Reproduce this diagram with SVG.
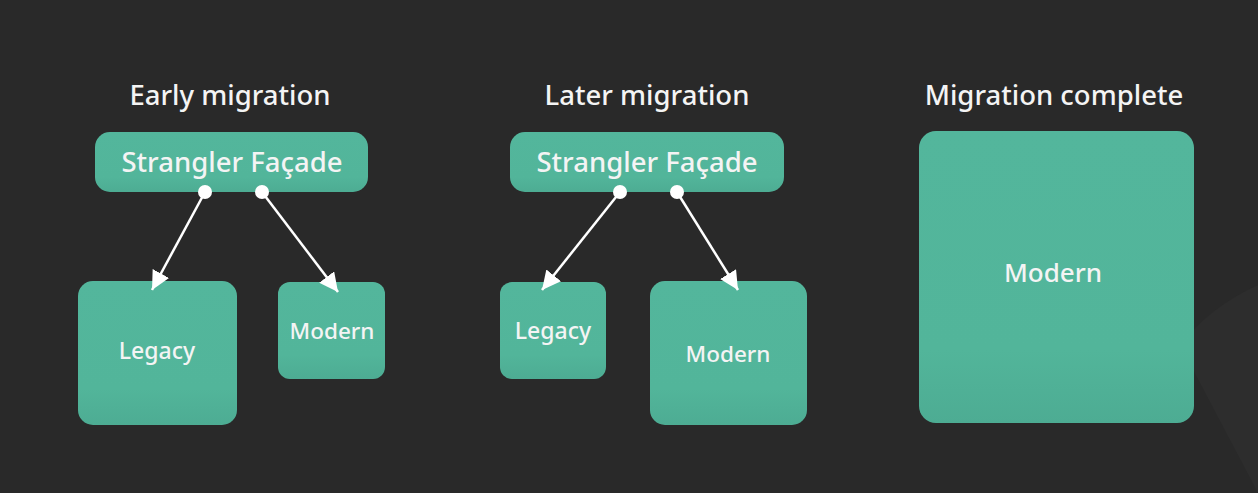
<svg xmlns="http://www.w3.org/2000/svg" width="1258" height="493" viewBox="0 0 1258 493">
<style>
.title{font-family:"Noto Sans",sans-serif;font-size:27.5px;fill:#f4f4f4;text-anchor:middle;font-weight:500}
.lbl{font-family:"Noto Sans",sans-serif;fill:#f4f4f4;text-anchor:middle;dominant-baseline:central;font-weight:500}
.box{fill:url(#g)}
.con{stroke:#ffffff;stroke-width:2.5;fill:none;marker-end:url(#ah)}
.dot{fill:#ffffff}
</style>
<defs>
<linearGradient id="g" x1="0" y1="0" x2="0" y2="1">
<stop offset="0" stop-color="#53b69c"/>
<stop offset="0.75" stop-color="#52b59a"/>
<stop offset="1" stop-color="#4dac93"/>
</linearGradient>
<marker id="ah" viewBox="0 0 10 10" refX="10" refY="5" markerWidth="7.5" markerHeight="7.5" orient="auto" markerUnits="strokeWidth">
<path d="M0,0 L10,5 L0,10 z" fill="#ffffff"/>
</marker>
</defs>
<rect width="1258" height="493" fill="#292929"/>
<path d="M1258,285 C1225,300 1200,320 1180,345 L1258,493 Z" fill="#2d2d2d"/>
<text class="title" x="230" y="105">Early migration</text>
<text class="title" x="647" y="105">Later migration</text>
<text class="title" x="1054" y="105">Migration complete</text>
<g id="facade1"><rect class="box" x="95" y="132" width="273" height="60" rx="15"/><text class="lbl" x="232" y="161" font-size="27.5">Strangler Façade</text></g>
<g id="legacy1"><rect class="box" x="78" y="281" width="159" height="144" rx="15"/><text class="lbl" x="157" y="350" font-size="23">Legacy</text></g>
<g id="modern1"><rect class="box" x="278" y="282" width="107" height="97" rx="12"/><text class="lbl" x="332" y="330" font-size="22.5">Modern</text></g>
<g id="facade2"><rect class="box" x="510" y="132" width="274" height="60" rx="15"/><text class="lbl" x="647" y="161" font-size="27.5">Strangler Façade</text></g>
<g id="legacy2"><rect class="box" x="500" y="282" width="106" height="97" rx="12"/><text class="lbl" x="553" y="330" font-size="23">Legacy</text></g>
<g id="modern2"><rect class="box" x="650" y="281" width="157" height="144" rx="15"/><text class="lbl" x="728" y="353" font-size="22.5">Modern</text></g>
<g id="modern3"><rect class="box" x="919" y="131" width="275" height="292" rx="17"/><text class="lbl" x="1053" y="272" font-size="26">Modern</text></g>
<g id="connectors">
<line class="con" x1="205" y1="192" x2="152" y2="290"/>
<line class="con" x1="262" y1="192" x2="338" y2="292"/>
<line class="con" x1="620" y1="192" x2="542" y2="290"/>
<line class="con" x1="677" y1="192" x2="738" y2="290"/>
<circle class="dot" cx="205" cy="192" r="7"/>
<circle class="dot" cx="262" cy="192" r="7"/>
<circle class="dot" cx="620" cy="192" r="7"/>
<circle class="dot" cx="677" cy="192" r="7"/>
</g>
</svg>
